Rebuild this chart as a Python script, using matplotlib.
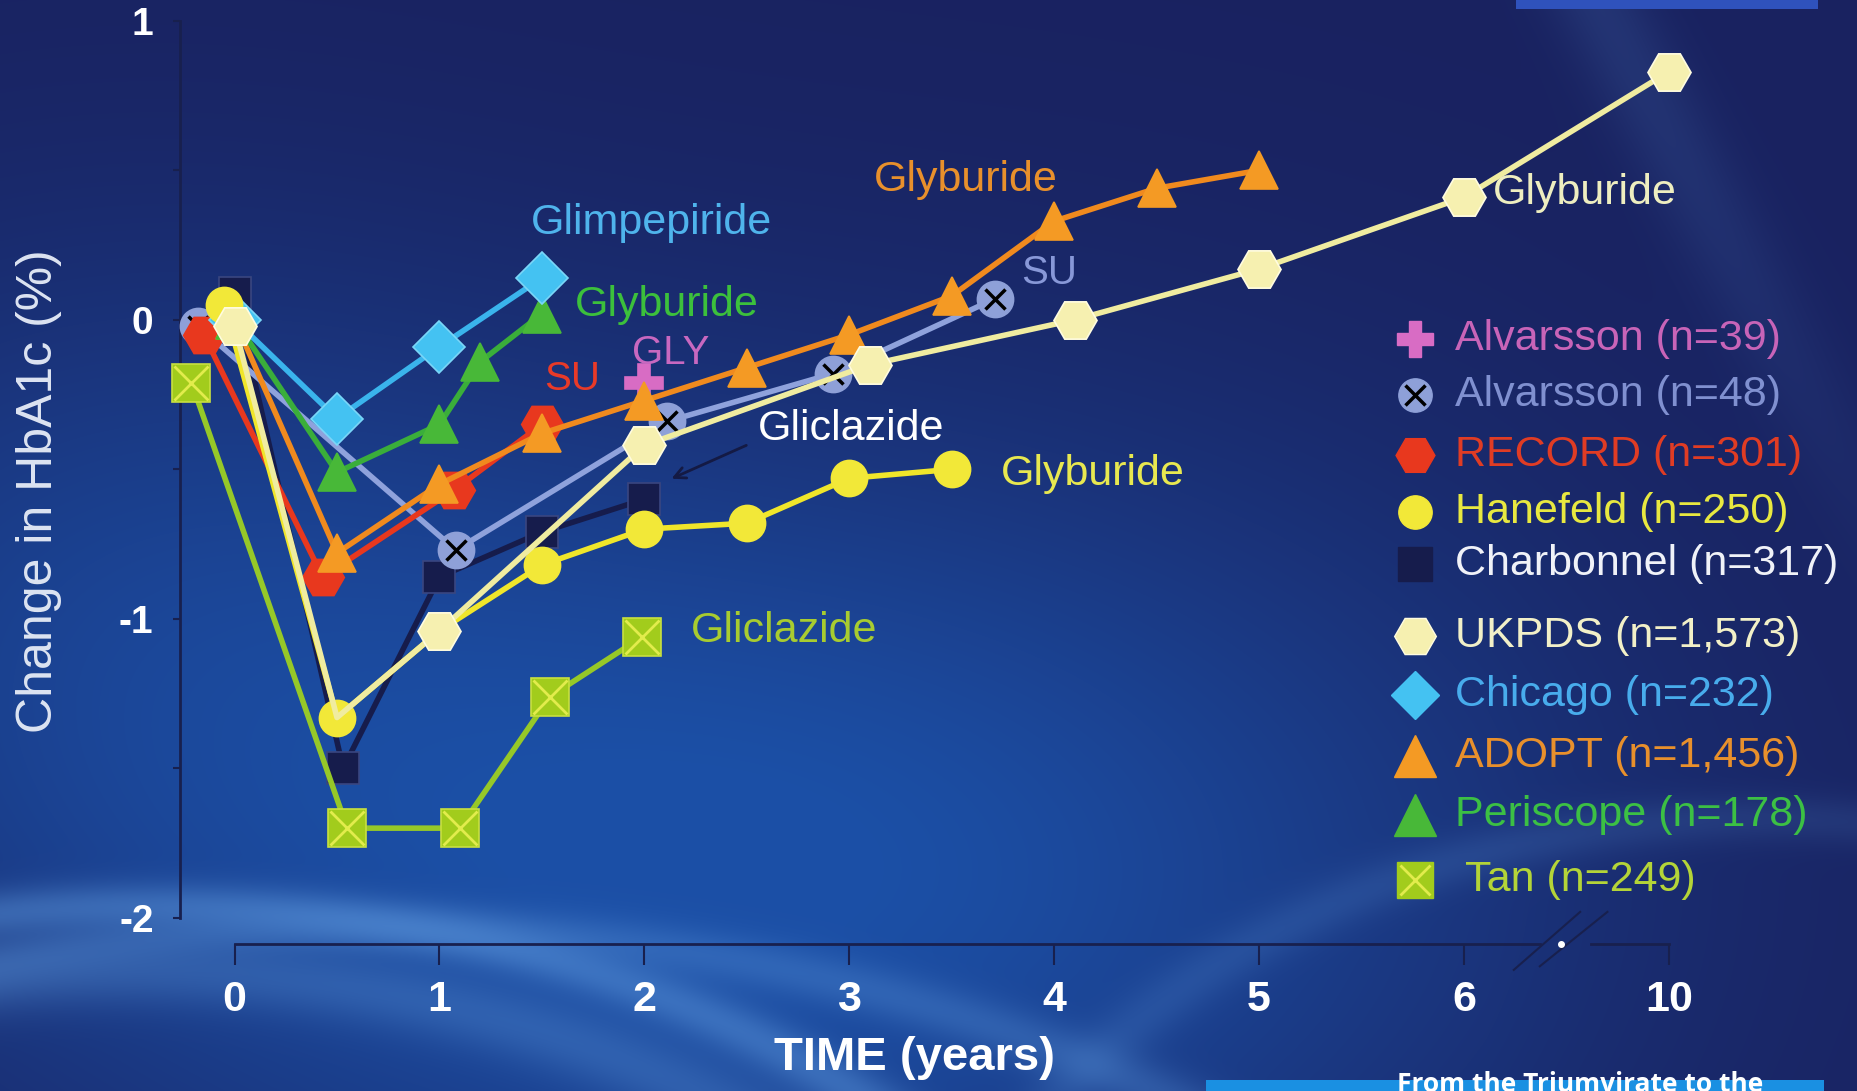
import numpy as np
import matplotlib
matplotlib.use("Agg")
import matplotlib.pyplot as plt

# ── Data (change in HbA1c, %, vs time in years) ──────────────
t_alv39, y_alv39 = [2.0], [-0.21]
t_alv48 = [-0.18, 1.08, 2.11, 2.92, 3.71]
y_alv48 = [-0.02, -0.77, -0.34, -0.18, 0.07]
t_record = [-0.15, 0.43, 1.07, 1.5]
y_record = [-0.05, -0.86, -0.57, -0.35]
t_hanefeld = [-0.05, 0.5, 1.0, 1.5, 2.0, 2.5, 3.0, 3.5]
y_hanefeld = [0.05, -1.33, -1.04, -0.82, -0.70, -0.68, -0.53, -0.50]
t_charbonnel = [0.0, 0.53, 1.0, 1.5, 2.0]
y_charbonnel = [0.09, -1.50, -0.86, -0.71, -0.60]
t_ukpds = [0.0, 0.5, 1.0, 2.0, 3.1, 4.1, 5.0, 6.0, 10.0]
y_ukpds = [-0.02, -1.33, -1.04, -0.42, -0.15, 0.0, 0.17, 0.41, 0.83]
t_chicago = [0.0, 0.5, 1.0, 1.5]
y_chicago = [0.0, -0.33, -0.09, 0.14]
t_adopt = [0.0, 0.5, 1.0, 1.5, 2.0, 2.5, 3.0, 3.5, 4.0, 4.5, 5.0]
y_adopt = [0.0, -0.78, -0.55, -0.38, -0.27, -0.16, -0.05, 0.08, 0.33, 0.44, 0.50]
t_periscope = [0.0, 0.5, 1.0, 1.2, 1.5]
y_periscope = [0.0, -0.51, -0.35, -0.14, 0.02]
t_tan = [-0.21, 0.55, 1.1, 1.54, 1.99]
y_tan = [-0.21, -1.70, -1.70, -1.26, -1.06]

legend_labels = ["Alvarsson (n=39)", "Alvarsson (n=48)", "RECORD (n=301)",
                 "Hanefeld (n=250)", "Charbonnel (n=317)", "UKPDS (n=1,573)",
                 "Chicago (n=232)", "ADOPT (n=1,456)", "Periscope (n=178)",
                 "Tan (n=249)"]
x_ticks = [0, 1, 2, 3, 4, 5, 6, 10]
y_ticks = [-2, -1, 0, 1]

W, H, DPI = 1857, 1091, 100
NARROW = ["Liberation Sans Narrow", "Liberation Sans"]
SANS = ["Liberation Sans", "DejaVu Sans"]


# broken time axis: 6 -> 10 years squeezed into one unit
def fwd(t):
    t = np.asarray(t, float)
    return np.where(t <= 6, t, 6 + (t - 6) / 4)


def inv(p):
    p = np.asarray(p, float)
    return np.where(p <= 6, p, 6 + (p - 6) * 4)


# ── Slide background ─────────────────────────────────────────
yy, xx = np.mgrid[0:H, 0:W].astype(float)
u, v = xx / W, yy / H
dark = np.array([25, 34, 96]) / 255
mid = np.array([28, 82, 170]) / 255
light = np.array([95, 155, 225]) / 255

g = np.exp(-(((u - 0.42) / 0.40) ** 2 + ((v - 0.80) / 0.40) ** 2))
g += 0.45 * np.exp(-(((u - 0.05) / 0.25) ** 2 + ((v - 0.55) / 0.35) ** 2))
g = np.clip(g, 0, 1) * 0.95
img = dark[None, None, :] * (1 - g[..., None]) + mid[None, None, :] * g[..., None]

# swooshes in the lower part
for cu, cv, a, b, r, w, amp in [(0.08, 1.45, 0.55, 0.62, 1.00, 0.035, 0.45),
                                (0.08, 1.45, 0.55, 0.62, 0.90, 0.05, 0.30),
                                (0.20, 1.60, 0.70, 0.75, 1.00, 0.03, 0.30),
                                (0.95, 1.30, 0.45, 0.55, 1.00, 0.04, 0.18)]:
    d = np.sqrt(((u - cu) / a) ** 2 + ((v - cv) / b) ** 2)
    band = amp * np.exp(-((d - r) / w) ** 2)
    img = img * (1 - band[..., None]) + light[None, None, :] * band[..., None]

# faint beam in the upper right
px, py = xx - 0.86 * W, yy
dx, dy = 260.0, 491.0
nrm = np.hypot(dx, dy)
dist = np.abs(px * dy - py * dx) / nrm
beam = 0.16 * np.exp(-(dist / 45) ** 2) * np.exp(-(yy / 500) ** 2)
img = img * (1 - beam[..., None]) + light[None, None, :] * beam[..., None]

# darken the right edge a little
shade = np.clip((u - 0.80) / 0.2, 0, 1) * 0.25
img = img * (1 - shade[..., None]) + dark[None, None, :] * shade[..., None]
img = np.clip(img, 0, 1)

fig = plt.figure(figsize=(W / DPI, H / DPI), dpi=DPI)
bg = fig.add_axes([0, 0, 1, 1])
bg.imshow(img, extent=(0, W, H, 0), aspect="auto", interpolation="bilinear")
bg.set_xlim(0, W)
bg.set_ylim(H, 0)
bg.axis("off")

# corner strips of the slide template
bg.add_patch(plt.Rectangle((1516, 0), 302, 9, color="#2f52bc", lw=0))
bg.add_patch(plt.Rectangle((1206, 1080), 618, 11, color="#1a90e2", lw=0))
bg.text(1397, 1071, "From the Triumvirate to the", color="white",
        fontsize=19, fontweight="bold", family=["Open Sans", "DejaVu Sans"],
        ha="left", va="top")

# ── Main axes ────────────────────────────────────────────────
ax = fig.add_axes([0, 0, 1, 1])
ax.patch.set_alpha(0)
ax.set_xscale("function", functions=(fwd, inv))
ax.set_xlim(-1.1445, float(inv(7.918)))
ax.set_ylim(-2.579, 1.0696)

navy = "#18204e"
for s in ["top", "right"]:
    ax.spines[s].set_visible(False)
ax.spines["left"].set_position(("data", -0.266))
ax.spines["left"].set_bounds(-2, 1.0)
ax.spines["bottom"].set_position(("data", -2.087))
ax.spines["bottom"].set_bounds(0, float(inv(6.37)))
for s in ["left", "bottom"]:
    ax.spines[s].set_color(navy)
    ax.spines[s].set_linewidth(2)

ax.set_xticks(x_ticks)
ax.set_xticklabels([str(t) for t in x_ticks])
ax.set_yticks(y_ticks)
ax.set_yticklabels([str(t) for t in y_ticks])
ax.set_yticks([-1.5, -0.5, 0.5], minor=True)
ax.tick_params(axis="x", which="both", direction="out", length=15, width=1.5,
               color=navy, pad=11, labelsize=31, labelcolor="white")
ax.tick_params(axis="y", which="both", direction="out", length=5, width=1.5,
               color=navy, pad=14, labelsize=28, labelcolor="white")
ax.xaxis.set_minor_locator(matplotlib.ticker.NullLocator())
for lab in ax.get_xticklabels() + ax.get_yticklabels():
    lab.set_family(NARROW)
    lab.set_fontweight("bold")

# axis break and the 6 -> 10 continuation
ax.plot([float(inv(6.62)), 10.0], [-2.087, -2.087], color=navy, lw=2, clip_on=False)
for p0, p1, y0 in [(6.243, 6.567, -2.174), (6.37, 6.70, -2.162)]:
    ax.plot(inv(np.array([p0, p1])), [y0, -1.98], color=navy, lw=1.5,
            clip_on=False)
ax.plot([float(inv(6.474))], [-2.087], "o", color="white", ms=4, clip_on=False)

ax.text(0.4927, 0.030, "TIME (years)", transform=ax.transAxes, color="white",
        fontsize=34, fontweight="bold", family=NARROW, ha="center", va="center")
ax.text(0.021, 0.55, "Change in HbA1c (%)", transform=ax.transAxes,
        color="#dde4f2", fontsize=36, family=SANS, rotation=90,
        ha="center", va="center")


# ── Series ───────────────────────────────────────────────────
def series(t, y, lc, mc, marker, ms, mec=None, z=3, every=None, lw=4):
    ax.plot(t, y, color=lc, lw=lw, marker=marker, ms=ms, mfc=mc,
            mec=mec or mc, mew=1.2, zorder=z, clip_on=False, markevery=every)


series(t_charbonnel, y_charbonnel, "#161c4c", "#161c4c", "s", 23, mec="#3a4680", z=2)
series(t_alv48, y_alv48, "#8fa2dc", "#8ea0d8", "o", 26, z=3)
ax.plot(t_alv48, y_alv48, "x", color="black", ms=15, mew=2.5, zorder=3.1, clip_on=False)
series(t_record, y_record, "#e8381e", "#e8381e", "H", 30, z=4)
series(t_alv39, y_alv39, "#d86cc4", "#d86cc4", "P", 28, z=4.5)
series(t_adopt, y_adopt, "#f08a1e", "#f49a24", "^", 28, z=5)
series(t_periscope, y_periscope, "#3aae3a", "#48b838", "^", 28, z=5)
series(t_chicago, y_chicago, "#3ab4ec", "#44c2f2", "D", 26, mec="#7ad6f8", z=5)
series(t_ukpds, y_ukpds, "#f0eca0", "#f6f0b0", "H", 31, mec="#fffce0", z=6,
       every=[0] + list(range(2, len(t_ukpds))))
series(t_hanefeld, y_hanefeld, "#f0e62a", "#f2e838", "o", 26, z=5.5)
series(t_tan, y_tan, "#96c828", "#a2cc1c", "s", 28, mec="#c8e040", z=7)
ax.plot(t_tan, y_tan, "x", color="#e2ec4c", ms=24, mew=2, zorder=7.1, clip_on=False)

# ── Drug labels next to the curves ───────────────────────────
drug_labels = [
    (1.445, 0.325, "Glimpepiride", "#4fb4ec", 31),
    (1.66, 0.048, "Glyburide", "#3cc03c", 31),
    (1.51, -0.198, "SU", "#e83a28", 29),
    (1.94, -0.11, "GLY", "#c868c0", 29),
    (3.12, 0.467, "Glyburide", "#e8902c", 31),
    (3.84, 0.158, "SU", "#8898d8", 29),
    (2.555, -0.364, "Gliclazide", "white", 31),
    (3.74, -0.515, "Glyburide", "#e8e850", 31),
    (6.56, 0.424, "Glyburide", "#eeeec0", 31),
    (2.225, -1.04, "Gliclazide", "#a8cc30", 31),
]
for x, y, s, c, fs in drug_labels:
    ax.text(x, y, s, color=c, fontsize=fs, family=SANS, ha="left",
            va="center", zorder=8)
ax.annotate("", xy=(2.12, -0.535), xytext=(2.51, -0.416),
            arrowprops=dict(arrowstyle="->", color="#141a44", lw=2,
                            mutation_scale=20), zorder=8)

# ── Legend ───────────────────────────────────────────────────
rows = [-0.063, -0.253, -0.451, -0.642, -0.816, -1.057, -1.255, -1.457, -1.655, -1.873]
handles = [("P", "#d86cc4", None, 26), ("o", "#8ea0d8", None, 24),
           ("H", "#e8381e", None, 28), ("o", "#f2e838", None, 24),
           ("s", "#161c4c", None, 24), ("H", "#f6f0b0", "#fffce0", 30),
           ("D", "#44c2f2", None, 24), ("^", "#f49a24", None, 30),
           ("^", "#48b838", None, 30), ("s", "#a2cc1c", None, 26)]
text_colors = ["#c864b8", "#8090d0", "#e03c24", "#e8e840", "#f0f2f8",
               "#f2f0c8", "#48acec", "#e8902c", "#3cc044", "#b4d438"]
for i, (lab, (m, c, ec, ms), tc, yr) in enumerate(zip(legend_labels, handles,
                                                    text_colors, rows)):
    ax.plot([5.763], [yr], m, color=c, mec=ec or c, ms=ms, clip_on=False, zorder=8)
    if i == 1:
        ax.plot([5.763], [yr], "x", color="black", ms=14, mew=2.5, zorder=8.1)
    if i == 9:
        ax.plot([5.763], [yr], "x", color="#e2ec4c", ms=22, mew=2, zorder=8.1)
    tx = 6.02 if i == 9 else 5.954
    ax.text(tx, yr, lab, color=tc, fontsize=31, family=SANS, ha="left",
            va="center", zorder=8)

fig.savefig("out.png", dpi=DPI)
